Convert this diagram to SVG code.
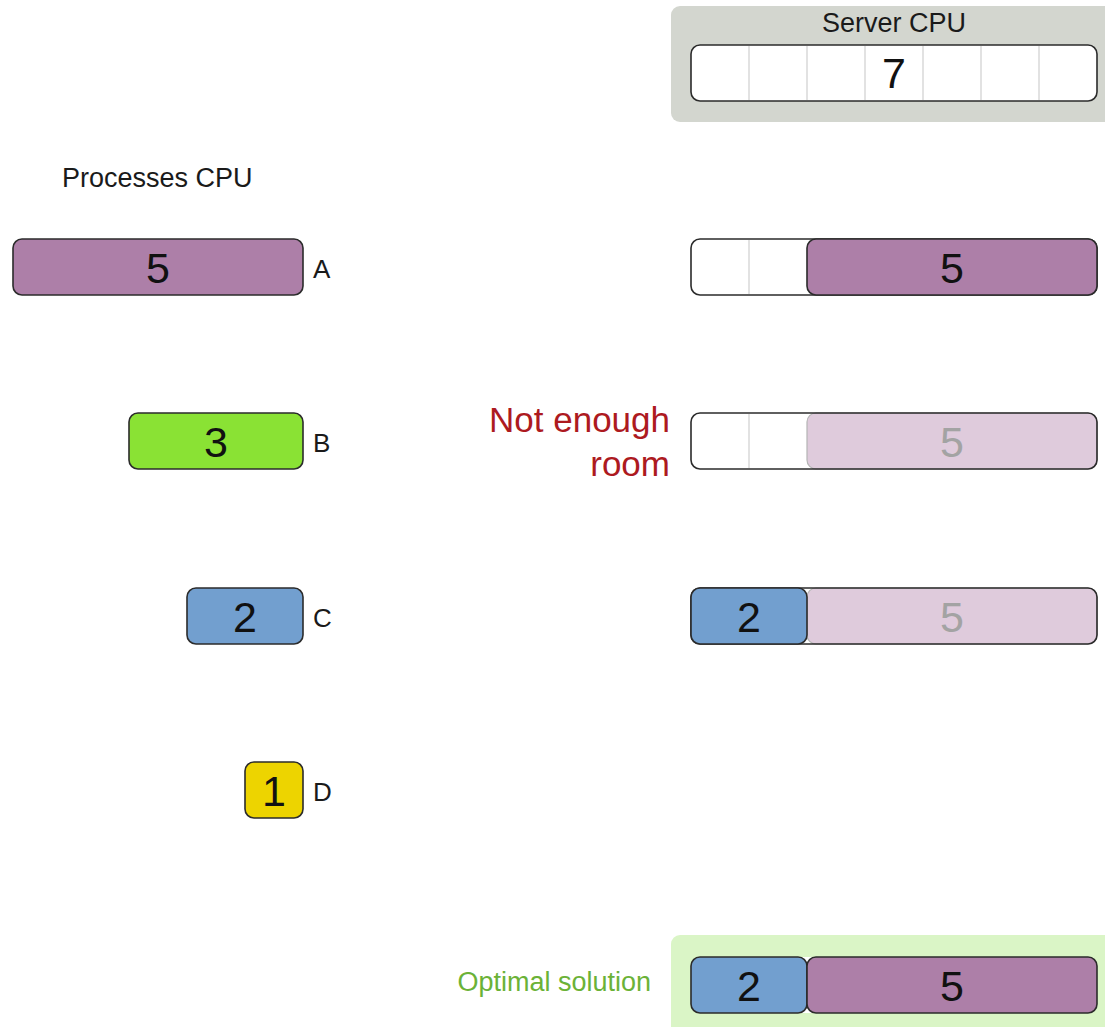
<svg xmlns="http://www.w3.org/2000/svg" width="1105" height="1027" viewBox="0 0 1105 1027">
  <style>
    text { font-family: "Liberation Sans", Arial, sans-serif; }
    .title { font-size: 27px; fill: #1a1a1a; }
    .num { font-size: 43px; fill: #111; text-anchor: middle; }
    .num-faded { font-size: 43px; fill: #a3a3a3; text-anchor: middle; }
    .tag { font-size: 26px; fill: #1a1a1a; }
    .bar { stroke: #2b2b2b; stroke-width: 1.6; }
    .slot { fill: #ffffff; }
    .edge { fill: none; stroke: #2b2b2b; stroke-width: 1.6; }
    .cell { stroke: #cfcfcf; stroke-width: 1.2; }
    .plum { fill: #ad7fa8; }
    .plum-faded { fill: #dfcbdc; stroke: #b5b5b5; stroke-width: 1.2; }
    .lime { fill: #8ae234; }
    .sky { fill: #729fcf; }
    .butter { fill: #edd400; }
  </style>

  <!-- server capacity panel -->
  <g id="server">
    <rect x="671" y="6" width="450" height="116" rx="9" fill="#d3d6cf"/>
    <text class="title" x="894" y="32" text-anchor="middle">Server CPU</text>
    <rect class="slot" x="691" y="45" width="406" height="56" rx="9"/>
    <g class="cell">
      <line x1="749" y1="46" x2="749" y2="100"/>
      <line x1="807" y1="46" x2="807" y2="100"/>
      <line x1="865" y1="46" x2="865" y2="100"/>
      <line x1="923" y1="46" x2="923" y2="100"/>
      <line x1="981" y1="46" x2="981" y2="100"/>
      <line x1="1039" y1="46" x2="1039" y2="100"/>
    </g>
    <rect class="edge" x="691" y="45" width="406" height="56" rx="9"/>
    <text class="num" x="894" y="88">7</text>
  </g>

  <text class="title" x="62" y="187">Processes CPU</text>

  <!-- processes -->
  <g id="process-a">
    <rect class="bar plum" x="13" y="239" width="290" height="56" rx="9"/>
    <text class="num" x="158" y="283">5</text>
    <text class="tag" x="313" y="278">A</text>
  </g>
  <g id="process-b">
    <rect class="bar lime" x="129" y="413" width="174" height="56" rx="9"/>
    <text class="num" x="216" y="457">3</text>
    <text class="tag" x="313" y="452">B</text>
  </g>
  <g id="process-c">
    <rect class="bar sky" x="187" y="588" width="116" height="56" rx="9"/>
    <text class="num" x="245" y="632">2</text>
    <text class="tag" x="313" y="627">C</text>
  </g>
  <g id="process-d">
    <rect class="bar butter" x="245" y="762" width="58" height="56" rx="9"/>
    <text class="num" x="274" y="806">1</text>
    <text class="tag" x="313" y="801">D</text>
  </g>

  <!-- step 1: A placed -->
  <g id="step-1">
    <rect class="slot" x="691" y="239" width="406" height="56" rx="9"/>
    <line class="cell" x1="749" y1="240" x2="749" y2="294"/>
    <rect class="edge" x="691" y="239" width="406" height="56" rx="9"/>
    <rect class="bar plum" x="807" y="239" width="290" height="56" rx="9"/>
    <text class="num" x="952" y="283">5</text>
  </g>

  <!-- step 2: B does not fit -->
  <g id="step-2">
    <text x="670" y="432" text-anchor="end" font-size="35" fill="#ad1a1f">Not enough</text>
    <text x="670" y="476" text-anchor="end" font-size="35" fill="#ad1a1f">room</text>
    <rect class="slot" x="691" y="413" width="406" height="56" rx="9"/>
    <line class="cell" x1="749" y1="414" x2="749" y2="468"/>
    <rect class="plum-faded" x="807" y="413" width="290" height="56" rx="9"/>
    <rect class="edge" x="691" y="413" width="406" height="56" rx="9"/>
    <text class="num-faded" x="952" y="457">5</text>
  </g>

  <!-- step 3: C placed -->
  <g id="step-3">
    <rect class="slot" x="691" y="588" width="406" height="56" rx="9"/>
    <rect class="plum-faded" x="807" y="588" width="290" height="56" rx="9"/>
    <rect class="edge" x="691" y="588" width="406" height="56" rx="9"/>
    <rect class="bar sky" x="691" y="588" width="116" height="56" rx="9"/>
    <text class="num" x="749" y="632">2</text>
    <text class="num-faded" x="952" y="632">5</text>
  </g>

  <!-- final assignment -->
  <g id="optimal">
    <text x="651" y="991" text-anchor="end" font-size="27" fill="#6bb237">Optimal solution</text>
    <rect x="671" y="935" width="450" height="110" rx="9" fill="#daf5c6"/>
    <rect class="slot" x="691" y="957" width="406" height="56" rx="9"/>
    <rect class="bar sky" x="691" y="957" width="116" height="56" rx="9"/>
    <rect class="bar plum" x="807" y="957" width="290" height="56" rx="9"/>
    <text class="num" x="749" y="1001">2</text>
    <text class="num" x="952" y="1001">5</text>
  </g>
</svg>
